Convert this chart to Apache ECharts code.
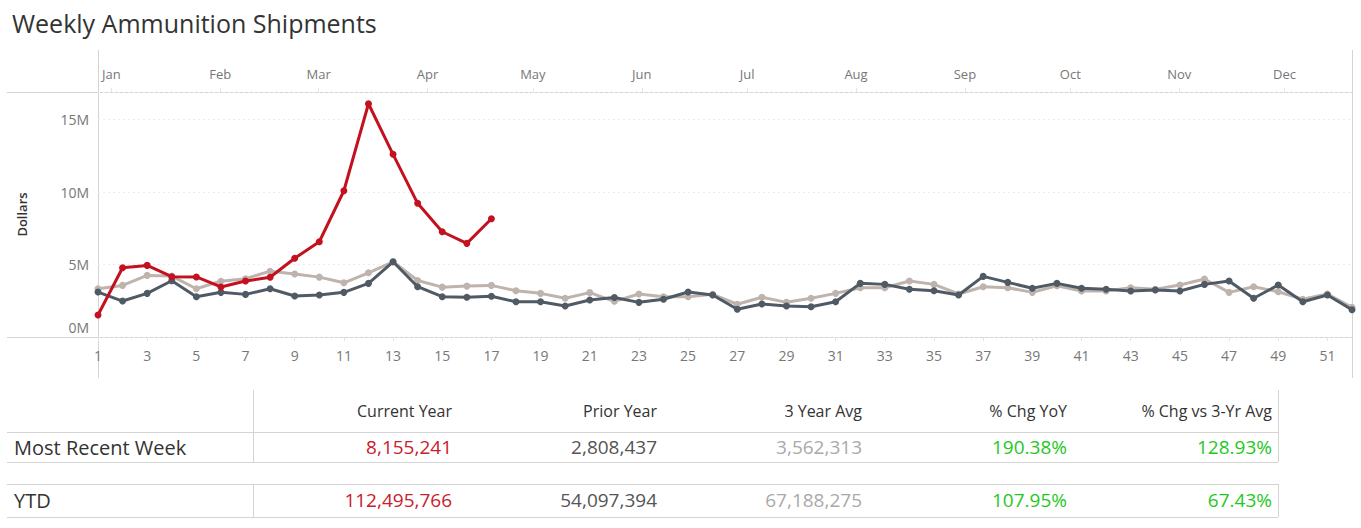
<!DOCTYPE html>
<html>
<head>
<meta charset="utf-8">
<script src="https://cdn.jsdelivr.net/npm/echarts@6/dist/echarts.min.js"></script>
<style>
html,body{margin:0;padding:0;background:#fff;}
#chart{width:1361px;height:528px;}
</style>
</head>
<body>
<div id="chart"></div>
<script>
// ---- data ----
const weeks = Array.from({length: 52}, (_, i) => String(i + 1));
const currentYear = [1.52, 4.78, 4.94, 4.16, 4.14, 3.45, 3.86, 4.12, 5.43, 6.57, 10.09, 16.09, 12.60, 9.22, 7.26, 6.46, 8.155];
const priorYear = [3.10, 2.48, 3.01, 3.88, 2.78, 3.08, 2.94, 3.33, 2.83, 2.90, 3.08, 3.70, 5.19, 3.47, 2.78, 2.74, 2.81,
  2.43, 2.43, 2.14, 2.55, 2.72, 2.39, 2.60, 3.10, 2.90, 1.91, 2.28, 2.14, 2.09, 2.43, 3.70,
  3.63, 3.29, 3.19, 2.90, 4.18, 3.77, 3.36, 3.70, 3.36, 3.29, 3.17, 3.24, 3.17, 3.63, 3.86, 2.67, 3.59, 2.43, 2.90, 1.88];
const threeYearAvg = [3.33, 3.56, 4.25, 4.20, 3.33, 3.85, 4.02, 4.54, 4.34, 4.13, 3.74, 4.43, 5.19, 3.90, 3.44, 3.51, 3.56,
  3.19, 3.01, 2.67, 3.06, 2.46, 2.97, 2.78, 2.78, 2.94, 2.26, 2.74, 2.39, 2.67, 3.01, 3.40,
  3.40, 3.86, 3.63, 2.97, 3.47, 3.40, 3.08, 3.54, 3.17, 3.17, 3.40, 3.29, 3.59, 4.00, 3.08, 3.47, 3.12, 2.60, 2.97, 2.05];
const months = ['Jan','Feb','Mar','Apr','May','Jun','Jul','Aug','Sep','Oct','Nov','Dec'];
const monthStartDay = [0, 31, 59, 90, 120, 151, 181, 212, 243, 273, 304, 334];
const yTicks = [0, 5, 10, 15];

const tableHeaders = ['Current Year', 'Prior Year', '3 Year Avg', '% Chg YoY', '% Chg vs 3-Yr Avg'];
const rowLabels = ['Most Recent Week', 'YTD'];
const recentWeekRow = ['8,155,241', '2,808,437', '3,562,313', '190.38%', '128.93%'];
const ytdRow = ['112,495,766', '54,097,394', '67,188,275', '107.95%', '67.43%'];

// ---- styling ----
const FONT = '"Open Sans", "Noto Sans", sans-serif';
const RED = '#c3111f', DARK = '#4f5a65', TAUPE = '#beb3ad';
const valueColors = ['#c8202c', '#555555', '#a9a9a9', '#1fc81f', '#1fc81f'];
const colRight = [452, 657, 862, 1067, 1272];
const monthPos = monthStartDay.map(d => 1 + (d + 3.8) / 7);
const M = 1e6;

const chart = echarts.init(document.getElementById('chart'), null, {renderer: 'svg'});

const lineCol = '#d4d4d4';
const graphics = [];
function hline(x1, x2, y, c) {
  graphics.push({type: 'line', silent: true, shape: {x1, y1: y, x2, y2: y}, style: {stroke: c || lineCol, lineWidth: 1}});
}
function vline(x, y1, y2, c) {
  graphics.push({type: 'line', silent: true, shape: {x1: x, y1, x2: x, y2}, style: {stroke: c || lineCol, lineWidth: 1}});
}
// chart frame
hline(7, 1352, 92.5);
hline(7, 1352, 337.5);
vline(98.5, 50, 378);
vline(1352.5, 50, 378);
// table frame
hline(7, 1278, 432.5);
hline(7, 1278, 462.5);
hline(7, 1278, 484.5);
hline(7, 1278, 517.5);
vline(253.5, 390, 462);
vline(1278.5, 390, 462);
vline(253.5, 484, 517);
vline(1278.5, 484, 517);
// table texts
tableHeaders.forEach((h, i) => {
  graphics.push({type: 'text', silent: true, x: colRight[i], y: 411,
    style: {text: h, fill: '#333', font: '16px ' + FONT, align: 'right', verticalAlign: 'middle'}});
});
[recentWeekRow, ytdRow].forEach((row, r) => {
  const y = r === 0 ? 447 : 500;
  graphics.push({type: 'text', silent: true, x: 14, y,
    style: {text: rowLabels[r], fill: '#333', font: '20px ' + FONT, align: 'left', verticalAlign: 'middle'}});
  row.forEach((v, i) => {
    graphics.push({type: 'text', silent: true, x: colRight[i], y,
      style: {text: v, fill: valueColors[i], font: '19px ' + FONT, align: 'right', verticalAlign: 'middle'}});
  });
});

const toM = arr => arr.map(v => v * M);

chart.setOption({
  animation: false,
  backgroundColor: '#fff',
  textStyle: {fontFamily: FONT},
  title: {
    text: 'Weekly Ammunition Shipments', left: 7, top: 5,
    textStyle: {fontFamily: FONT, fontSize: 25, fontWeight: 'normal', color: '#333'}
  },
  grid: {left: 98, right: 9, top: 92, bottom: 191, containLabel: false},
  xAxis: [{
    type: 'category', data: weeks, boundaryGap: false, position: 'bottom',
    axisLine: {show: false},
    axisTick: {show: true, interval: 1, length: 4, lineStyle: {color: '#e3e3e3'}},
    axisLabel: {interval: 1, color: '#777', fontSize: 14, margin: 11, fontFamily: FONT},
    splitLine: {show: false}
  }, {
    type: 'value', min: 1, max: 52, position: 'top',
    axisLine: {show: false},
    axisTick: {show: true, customValues: monthPos, length: 4, inside: false, lineStyle: {color: '#e6e6e6'}},
    axisLabel: {customValues: monthPos, color: '#777', fontSize: 13, margin: 12, fontFamily: FONT,
      formatter: v => { let best = 0, bd = 1e9; monthPos.forEach((p, i) => { const d = Math.abs(p - v); if (d < bd) { bd = d; best = i; } }); return months[best]; }},
    splitLine: {show: false}
  }],
  yAxis: {
    type: 'value', min: 0, max: 16.9 * M, interval: 5 * M,
    name: 'Dollars', nameLocation: 'middle', nameRotate: 90, nameGap: 70,
    nameTextStyle: {color: '#333', fontSize: 13, fontWeight: 600, fontFamily: FONT},
    axisLine: {show: false}, axisTick: {show: false},
    axisLabel: {
      color: '#777', fontSize: 14, margin: 9, fontFamily: FONT,
      customValues: yTicks.map(v => v * M),
      formatter: v => v === 0 ? '{z|0M}' : (v / M) + 'M',
      rich: {z: {color: '#777', fontSize: 14, fontFamily: FONT, padding: [0, 0, 20, 0]}}
    },
    splitLine: {show: true, lineStyle: {color: '#ececec', type: [2, 3], width: 1}}
  },
  series: [
    {name: '3 Year Avg', type: 'line', data: toM(threeYearAvg), xAxisIndex: 0, symbol: 'circle', symbolSize: 7,
      itemStyle: {color: TAUPE}, lineStyle: {color: TAUPE, width: 3}, z: 2},
    {name: 'Prior Year', type: 'line', data: toM(priorYear), xAxisIndex: 0, symbol: 'circle', symbolSize: 7,
      itemStyle: {color: DARK}, lineStyle: {color: DARK, width: 3}, z: 3},
    {name: 'Current Year', type: 'line', data: toM(currentYear), xAxisIndex: 0, symbol: 'circle', symbolSize: 7,
      itemStyle: {color: RED}, lineStyle: {color: RED, width: 3}, z: 4}
  ],
  graphic: graphics
});
</script>
</body>
</html>
